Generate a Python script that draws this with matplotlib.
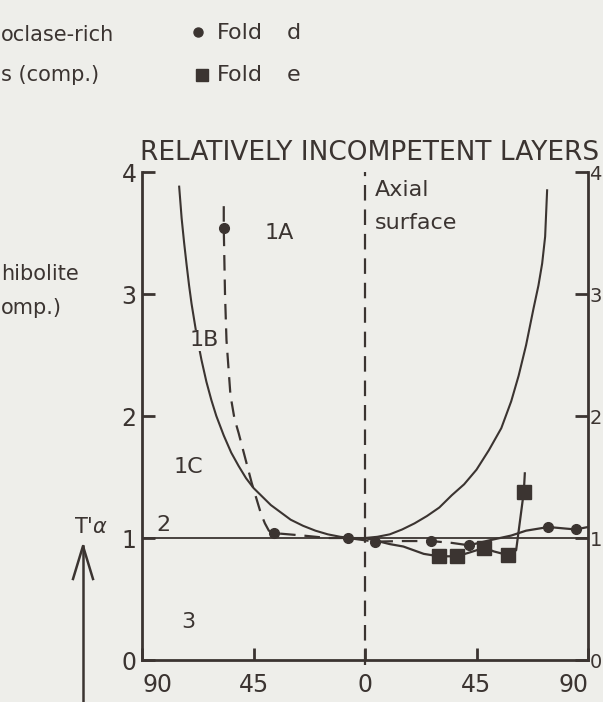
import matplotlib
matplotlib.use("Agg")
import matplotlib.pyplot as plt
from matplotlib.lines import Line2D

INK = "#3b3431"
BG = "#eeeeea"
W, H = 603, 702

# Class 1B reference curve (parallel folds), T'a against dip angle a
ref_left_deg = [-75, -74, -73, -72, -71, -70, -68, -66, -64, -62, -60, -57, -54,
                -51, -48, -45, -42, -38, -34, -30, -25, -20, -15, -10, -5, 0]
ref_left_val = [3.88, 3.62, 3.42, 3.24, 3.07, 2.92, 2.67, 2.46, 2.28, 2.13, 2.00,
                1.84, 1.70, 1.59, 1.49, 1.41, 1.35, 1.27, 1.21, 1.15, 1.10, 1.06,
                1.03, 1.01, 1.00, 1.00]
ref_right_deg = [0, 5, 10, 15, 20, 25, 30, 35, 40, 45, 50, 55, 59, 62, 65, 68,
                 70, 71.5, 72.7, 73.5]
ref_right_val = [1.00, 1.01, 1.03, 1.07, 1.12, 1.18, 1.25, 1.35, 1.44, 1.56, 1.72,
                 1.90, 2.12, 2.33, 2.58, 2.88, 3.07, 3.25, 3.47, 3.85]

# Fold d: measured points and the traced profile through them
fold_d_deg = [-57.0, -36.7, -6.9, 4.1, 26.5, 42.0, 74.0, 85.0]
fold_d_val = [3.54, 1.04, 1.00, 0.97, 0.975, 0.94, 1.09, 1.07]
fold_d_dash_deg = [-57.0, -57.0, -56.5, -55.9, -54.3, -52.7, -51.0, -45.7, -42.0,
                   -40.4, -38.8, -36.7, -25.0, -15.0, -6.9, 4.1, 15.0, 26.5, 35.0, 42.0]
fold_d_dash_val = [3.72, 3.54, 3.00, 2.62, 2.17, 1.98, 1.86, 1.45, 1.20, 1.12,
                   1.06, 1.04, 1.02, 1.00, 1.00, 0.97, 0.975, 0.975, 0.96, 0.94]
fold_d_solid_deg = [42.0, 50.0, 59.0, 65.0, 74.0, 85.0, 90.0]
fold_d_solid_val = [0.94, 0.98, 1.02, 1.06, 1.09, 1.07, 1.09]

# Fold e: measured points and the traced profile through them
fold_e_deg = [29.8, 37.1, 48.2, 57.6, 64.1]
fold_e_val = [0.85, 0.85, 0.92, 0.86, 1.38]
fold_e_line_deg = [0.0, 4.0, 10.0, 15.5, 23.7, 29.8, 37.1, 42.0, 48.2, 52.0, 57.6,
                   61.0, 64.1, 64.5]
fold_e_line_val = [1.00, 0.98, 0.95, 0.93, 0.87, 0.85, 0.85, 0.88, 0.92, 0.89,
                   0.86, 0.90, 1.38, 1.53]

x_ticks = [-90, -45, 0, 45, 90]
x_tick_labels = ["90", "45", "0", "45", "90"]
y_ticks = [0, 1, 2, 3, 4]

plt.rcParams["font.family"] = ["DejaVu Sans"]

fig = plt.figure(figsize=(W / 100, H / 100), dpi=100, facecolor=BG)


def fx(px):
    return px / W


def fy(py):
    return 1 - py / H


ax = fig.add_axes([fx(142), fy(660), (588 - 142) / W, (660 - 172) / H])
ax.set_facecolor(BG)
ax.set_xlim(-90, 90)
ax.set_ylim(0, 4)

for side in ("left", "right", "bottom"):
    ax.spines[side].set_color(INK)
    ax.spines[side].set_linewidth(2.0)
ax.spines["top"].set_visible(False)

# right-hand value labels, set close to the spine
axr = ax.twinx()
axr.set_ylim(0, 4)
axr.set_yticks(y_ticks)
axr.tick_params(axis="y", length=0, labelcolor=INK, labelsize=14, pad=1)
for s in axr.spines.values():
    s.set_visible(False)

ax.set_xticks(x_ticks)
ax.set_xticklabels(x_tick_labels)
ax.set_yticks(y_ticks)
ax.tick_params(axis="x", direction="in", length=8.5, width=2.0, color=INK,
               labelcolor=INK, labelsize=17, pad=9)
ax.tick_params(axis="y", direction="in", length=9.5, width=2.0, color=INK,
               labelcolor=INK, labelsize=17, pad=4, left=True, right=True,
               labelleft=True, labelright=False)
xl = ax.get_xticklabels()
xl[0].set_horizontalalignment("left")
xl[-1].set_horizontalalignment("right")

# T'a = 1 line and the axial surface
ax.axhline(1.0, color=INK, lw=1.3)
ax.axvline(0.0, color=INK, lw=1.6, dashes=(7, 4), ymin=-0.01, ymax=1.0,
           clip_on=False)

# reference curve
ax.plot(ref_left_deg, ref_left_val, color=INK, lw=1.5)
ax.plot(ref_right_deg, ref_right_val, color=INK, lw=1.5)

# fold d
ax.plot(fold_d_dash_deg, fold_d_dash_val, color=INK, lw=1.6, dashes=(7, 4))
ax.plot(fold_d_solid_deg, fold_d_solid_val, color=INK, lw=1.6)
ax.plot(fold_d_deg, fold_d_val, "o", color=INK, ms=7, zorder=5)

# fold e
ax.plot(fold_e_line_deg, fold_e_line_val, color=INK, lw=1.6)
ax.plot(fold_e_deg, fold_e_val, "s", color=INK, ms=10, zorder=5)

# class labels
lab = dict(color=INK, fontsize=16, ha="center", va="center")
ax.text(-34.7, 3.5, "1A", **lab)
ax.text(-64.9, 2.62, "1B", bbox=dict(facecolor=BG, edgecolor="none", pad=0.5), **lab)
ax.text(-71.4, 1.58, "1C", **lab)
ax.text(-81.2, 1.11, "2", **lab)
ax.text(-71.4, 0.31, "3", **lab)
ax.text(4.1, 3.85, "Axial", color=INK, fontsize=16, ha="left", va="center")
ax.text(4.1, 3.58, "surface", color=INK, fontsize=16, ha="left", va="center")

# panel heading
fig.text(fx(140), fy(153), "RELATIVELY INCOMPETENT LAYERS", color=INK,
         fontsize=19, ha="left", va="center")

# legend
fig.add_artist(Line2D([fx(198)], [fy(32)], marker="o", ms=6.5, color=INK, lw=0))
fig.add_artist(Line2D([fx(202)], [fy(75)], marker="s", ms=9, color=INK, lw=0))
fig.text(fx(217), fy(33), "Fold", color=INK, fontsize=16, ha="left", va="center")
fig.text(fx(287), fy(33), "d", color=INK, fontsize=16, ha="left", va="center")
fig.text(fx(217), fy(75), "Fold", color=INK, fontsize=16, ha="left", va="center")
fig.text(fx(287), fy(75), "e", color=INK, fontsize=16, ha="left", va="center")

# neighbouring panel captions at the left edge
cap = dict(color=INK, fontsize=15, ha="left", va="center")
fig.text(fx(1), fy(35), "oclase-rich", **cap)
fig.text(fx(1), fy(75), "s (comp.)", **cap)
fig.text(fx(1), fy(274), "hibolite", **cap)
fig.text(fx(1), fy(308), "omp.)", **cap)

# T'a axis arrow
fig.text(fx(91), fy(527), "T'$\\alpha$", color=INK, fontsize=15, ha="center",
         va="center")
fig.add_artist(Line2D([fx(83), fx(83)], [fy(546), fy(702)], color=INK, lw=1.8))
fig.add_artist(Line2D([fx(73), fx(83), fx(93)], [fy(579), fy(546), fy(579)],
                      color=INK, lw=1.8))

fig.savefig("out.png", dpi=100, facecolor=BG)
